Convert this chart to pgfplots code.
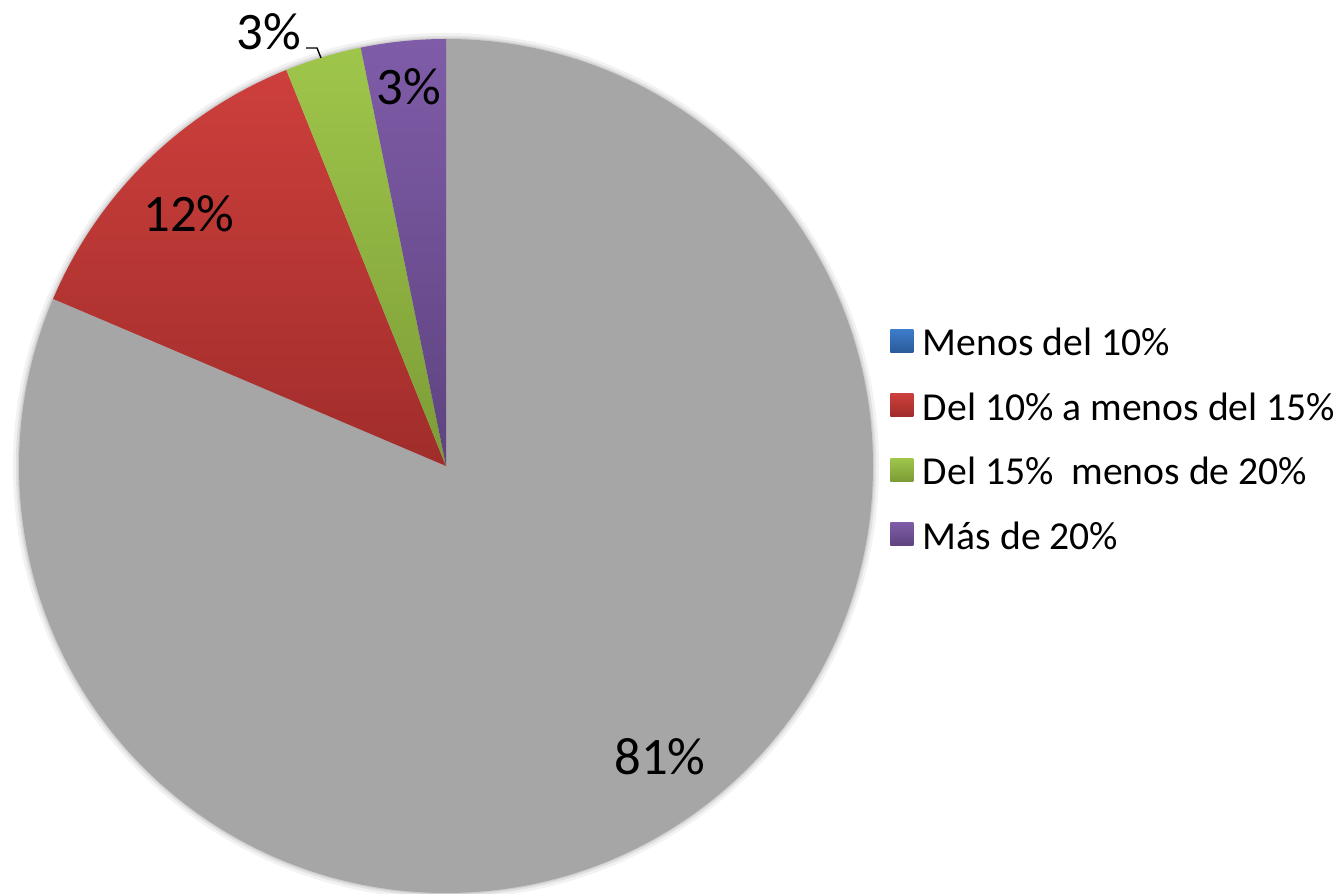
\documentclass[border=0pt]{standalone}
\usepackage{pgfplots}
\pgfplotsset{compat=1.18}
\usepackage{pgfplotstable}
\usepackage{fontspec}
\setmainfont{Carlito}

\definecolor{pgray}{HTML}{A6A6A6}
\definecolor{redT}{HTML}{CD3F3C}
\definecolor{redB}{HTML}{A02D2B}
\definecolor{grnT}{HTML}{9FC64B}
\definecolor{grnB}{HTML}{7C9C36}
\definecolor{purT}{HTML}{7F5CA8}
\definecolor{purB}{HTML}{5E437F}
\definecolor{bluT}{HTML}{3D7DCC}
\definecolor{bluB}{HTML}{2A5A99}

\pgfplotstableread{
slice pct
gray 81.4
red 12.5
green 2.9
purple 3.2
}\piedata

\pgfplotstablegetelem{0}{pct}\of\piedata\pgfmathsetmacro\eA{90-3.6*\pgfplotsretval}
\pgfplotstablegetelem{1}{pct}\of\piedata\pgfmathsetmacro\eB{\eA-3.6*\pgfplotsretval}
\pgfplotstablegetelem{2}{pct}\of\piedata\pgfmathsetmacro\eC{\eB-3.6*\pgfplotsretval}
\pgfplotstablegetelem{3}{pct}\of\piedata\pgfmathsetmacro\eD{\eC-3.6*\pgfplotsretval}

\def\R{106.75mm}
\def\cen{(axis cs:446,428)}
\def\sq{(0mm,-2.6mm) rectangle (5.75mm,3.15mm)}

\begin{document}
\begin{tikzpicture}
\useasboundingbox (0,0) rectangle (335.5mm,223.5mm);
\begin{axis}[
  at={(0,0)}, anchor=south west,
  scale only axis, width=335.5mm, height=223.5mm,
  xmin=0, xmax=1342, ymin=0, ymax=894,
  hide axis, clip=false,
  legend cell align=left,
  legend style={
    at={(0.6632,0.5095)}, anchor=west,
    draw=none, fill=none, inner sep=0pt,
    font=\fontsize{28.2}{33}\selectfont,
    row sep=9.1mm,
    nodes={inner sep=0pt, text height=7mm, text depth=0pt},
    /tikz/every odd column/.append style={column sep=2.4mm},
  },
]
% soft shadow
\fill[black, opacity=0.05] \cen circle[radius=\R+1.5mm];
\fill[black, opacity=0.07] \cen circle[radius=\R+0.8mm];
\fill[black, opacity=0.09] \cen circle[radius=\R+0.3mm];
% slices
\fill[pgray] \cen -- ++(90:\R) arc[start angle=90, end angle=\eA, radius=\R] -- cycle;
\shade[top color=redT, bottom color=redB] \cen -- ++(\eA:\R) arc[start angle=\eA, end angle=\eB, radius=\R] -- cycle;
\shade[top color=grnT, bottom color=grnB] \cen -- ++(\eB:\R) arc[start angle=\eB, end angle=\eC, radius=\R] -- cycle;
\shade[top color=purT, bottom color=purB] \cen -- ++(\eC:\R) arc[start angle=\eC, end angle=\eD, radius=\R] -- cycle;
% labels
\node[font=\fontsize{37.5}{44}\selectfont, inner sep=0pt] at (axis cs:660,137) {81\%};
\node[font=\fontsize{37.5}{44}\selectfont, inner sep=0pt] at (axis cs:189,680) {12\%};
\node[font=\fontsize{37.5}{44}\selectfont, inner sep=0pt] at (axis cs:409,807) {3\%};
\node[font=\fontsize{37.5}{44}\selectfont, inner sep=0pt] at (axis cs:269,862) {3\%};
\draw[black, line width=0.35mm] (axis cs:306,846) -- (axis cs:317,846) -- (axis cs:321,836);
% legend
\addlegendimage{legend image code/.code={\shade[draw=none,top color=bluT,bottom color=bluB] \sq;}}
\addlegendentry{Menos del 10\%}
\addlegendimage{legend image code/.code={\shade[draw=none,top color=redT,bottom color=redB] \sq;}}
\addlegendentry{Del 10\% a menos del 15\%}
\addlegendimage{legend image code/.code={\shade[draw=none,top color=grnT,bottom color=grnB] \sq;}}
\addlegendentry{Del 15\%\ \ menos de 20\%}
\addlegendimage{legend image code/.code={\shade[draw=none,top color=purT,bottom color=purB] \sq;}}
\addlegendentry{Más de 20\%}
\end{axis}
\end{tikzpicture}
\end{document}
